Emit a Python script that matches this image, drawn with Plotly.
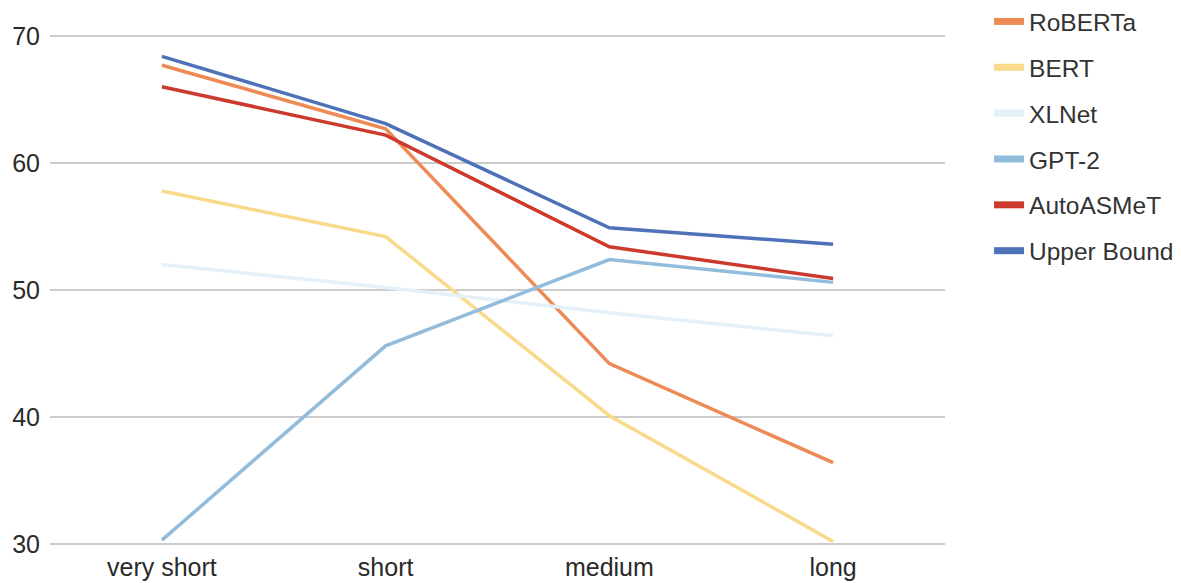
import plotly.graph_objects as go

categories = ["very short", "short", "medium", "long"]
roberta = [67.7, 62.7, 44.2, 36.4]
bert = [57.8, 54.2, 40.1, 30.2]
xlnet = [52.0, 50.2, 48.2, 46.4]
gpt2 = [30.3, 45.6, 52.4, 50.6]
autoasmet = [66.0, 62.2, 53.4, 50.9]
upper = [68.4, 63.1, 54.9, 53.6]

series = [
    ("RoBERTa", roberta, "#ee8a55"),
    ("BERT", bert, "#f9d98a"),
    ("XLNet", xlnet, "#e3f1f8"),
    ("GPT-2", gpt2, "#92bcdc"),
    ("AutoASMeT", autoasmet, "#cc3a2e"),
    ("Upper Bound", upper, "#4e72b8"),
]

fig = go.Figure()
for name, vals, color in series:
    fig.add_trace(go.Scatter(
        x=categories, y=vals, name=name, mode="lines",
        line=dict(color=color, width=3.5), legendgroup=name, showlegend=False,
    ))
for name, vals, color in series:
    fig.add_trace(go.Scatter(
        x=[None], y=[None], name=name, mode="lines",
        line=dict(color=color, width=7), legendgroup=name, showlegend=True,
    ))

fig.update_layout(
    width=1181, height=583,
    margin=dict(l=42, r=244, t=27, b=46, autoexpand=False),
    plot_bgcolor="white", paper_bgcolor="white",
    font=dict(family="Liberation Sans, Arial, sans-serif", size=25, color="#333333"),
    xaxis=dict(type="category", range=[-0.5, 3.5], showgrid=False, showline=False,
               ticks="", tickfont=dict(size=25, color="#2a2a2a"), automargin=False,
               ticklabelstandoff=5),
    yaxis=dict(range=[29.92, 70.08], tickvals=[30, 40, 50, 60, 70], showgrid=True,
               gridcolor="#cccccc", gridwidth=1.5, zeroline=False, ticks="",
               tickfont=dict(size=25, color="#2a2a2a"), automargin=False,
               ticklabelstandoff=9),
    legend=dict(x=1.0492, y=1.0706, xanchor="left", yanchor="top", tracegroupgap=11,
                itemwidth=30, font=dict(size=24.5, color="#333333"), bgcolor="rgba(0,0,0,0)"),
    showlegend=True,
)

fig.write_html("out.html")
